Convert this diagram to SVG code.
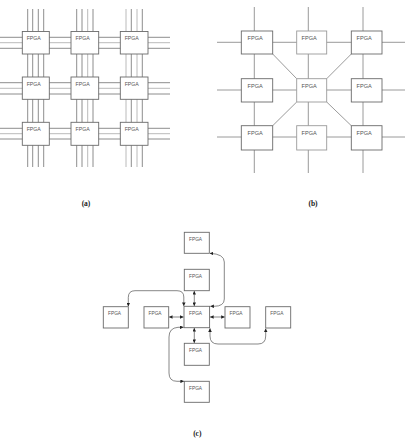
<svg xmlns="http://www.w3.org/2000/svg" width="405" height="442" viewBox="0 0 405 442">
<defs>
<style>
.bg{fill:#fff}
.box{fill:#fff;stroke:#6a6a6a;stroke-width:0.9}
.lbl{font-family:"Liberation Sans",Arial,sans-serif;fill:#555}
.la{font-size:5.2px}
.lb{font-size:5.6px}
.lc{font-size:4.8px}
.wd{stroke:#707070;stroke-width:0.8;fill:none}
.wl{stroke:#a8a8a8;stroke-width:0.8;fill:none}
.wb{stroke:#808080;stroke-width:0.8;fill:none}
.cn{stroke:#555;stroke-width:0.7;fill:none;marker-start:url(#ah);marker-end:url(#ah)}
.cap{font-family:"Liberation Serif","Times New Roman",serif;font-weight:bold;font-size:7.5px;fill:#222;text-anchor:middle}
</style>
<marker id="ah" viewBox="0 0 10 10" refX="10" refY="5" markerWidth="3.6" markerHeight="3.6" markerUnits="userSpaceOnUse" orient="auto-start-reverse">
<path d="M0,0 L10,5 L0,10 z" fill="#222"/>
</marker>
</defs>
<rect class="bg" x="0" y="0" width="405" height="442"/>

<!-- Panel (a) -->
<g id="a-wires">
<g class="wd">
<path d="M27.7 9V167M32.7 9V167M38.3 9V167M43.7 9V167"/>
<path d="M76.7 9V167M82 9V167M93 9V167"/>
<path d="M131.3 9V167M142.3 9V167"/>
<path d="M0 37.3H170M0 48.3H170"/>
<path d="M0 82.7H170M0 94H170"/>
<path d="M0 128.3H170M0 139H170"/>
</g>
<g class="wl">
<path d="M87.7 9V167M126 9V167M137 9V167"/>
<path d="M0 42.7H170M0 88.3H170M0 133.7H170"/>
</g>
</g>
<g id="a11"><rect class="box" x="22.3" y="31.5" width="27" height="22.5"/><text class="lbl la" x="26.7" y="40">FPGA</text></g>
<g id="a12"><rect class="box" x="71" y="31.5" width="27.7" height="22.5"/><text class="lbl la" x="75.5" y="40">FPGA</text></g>
<g id="a13"><rect class="box" x="120.3" y="31.5" width="27.7" height="22.5"/><text class="lbl la" x="124.7" y="40">FPGA</text></g>
<g id="a21"><rect class="box" x="22.3" y="77" width="27" height="22.3"/><text class="lbl la" x="26.7" y="85.8">FPGA</text></g>
<g id="a22"><rect class="box" x="71" y="77" width="27.7" height="22.3"/><text class="lbl la" x="75.5" y="85.8">FPGA</text></g>
<g id="a23"><rect class="box" x="120.3" y="77" width="27.7" height="22.3"/><text class="lbl la" x="124.7" y="85.8">FPGA</text></g>
<g id="a31"><rect class="box" x="22.3" y="122.3" width="27" height="23"/><text class="lbl la" x="26.7" y="131">FPGA</text></g>
<g id="a32"><rect class="box" x="71" y="122.3" width="27.7" height="23"/><text class="lbl la" x="75.5" y="131">FPGA</text></g>
<g id="a33"><rect class="box" x="120.3" y="122.3" width="27.7" height="23"/><text class="lbl la" x="124.7" y="131">FPGA</text></g>
<text class="cap" x="86" y="206">(a)</text>

<!-- Panel (b) -->
<g id="b-wires" class="wb">
<path d="M254.3 7V173M308.3 7V173M363 7V173"/>
<path d="M217 42.3H405M217 90H405M217 137H405"/>
<path d="M272.7 54L296.7 78.7M326.7 78.7L351.3 54M296.7 102L272.7 125.7M326.7 102L351.3 125.7"/>
</g>
<g id="b11"><rect class="box" x="241.3" y="31" width="31.4" height="23"/><text class="lbl lb" x="247.5" y="40">FPGA</text></g>
<g id="b12"><rect class="box" x="296.7" y="31" width="30" height="23" style="stroke:#9a9a9a"/><text class="lbl lb" x="301.5" y="40">FPGA</text></g>
<g id="b13"><rect class="box" x="351.3" y="31" width="30.7" height="23"/><text class="lbl lb" x="356.5" y="40">FPGA</text></g>
<g id="b21"><rect class="box" x="241.3" y="78.7" width="31.4" height="23.3"/><text class="lbl lb" x="247.5" y="87.8">FPGA</text></g>
<g id="b22"><rect class="box" x="296.7" y="78.7" width="30" height="23.3" style="stroke:#9a9a9a"/><text class="lbl lb" x="301.5" y="87.8">FPGA</text></g>
<g id="b23"><rect class="box" x="351.3" y="78.7" width="30.7" height="23.3"/><text class="lbl lb" x="356.5" y="87.8">FPGA</text></g>
<g id="b31"><rect class="box" x="241.3" y="125.7" width="31.4" height="24.3"/><text class="lbl lb" x="247.5" y="135">FPGA</text></g>
<g id="b32"><rect class="box" x="296.7" y="125.7" width="30" height="24.3" style="stroke:#9a9a9a"/><text class="lbl lb" x="301.5" y="135">FPGA</text></g>
<g id="b33"><rect class="box" x="351.3" y="125.7" width="30.7" height="24.3"/><text class="lbl lb" x="356.5" y="135">FPGA</text></g>
<text class="cap" x="313" y="206">(b)</text>

<!-- Panel (c) -->
<g id="c-connectors">
<path class="cn" d="M209.8 253.3 Q224.3 254 224.3 262 V299 Q224.3 306.3 214 306.3 H210.3"/>
<path class="cn" d="M194.3 291 V306"/>
<path class="cn" d="M168.9 317 H183.6"/>
<path class="cn" d="M210 317 H224.8"/>
<path class="cn" d="M194.3 328 V343"/>
<path class="cn" d="M183.8 306 V297 Q183.8 290.7 177 290.7 H135 Q128.3 290.7 128.3 297.5 V306.4"/>
<path class="cn" d="M183.6 327.3 H178 Q169 328 169 337 V373 Q169 381.3 177 381.3 H184"/>
<path class="cn" d="M210 328.3 V336 Q210 344 218 344 H258 Q265.7 344 265.7 336 V328.5"/>
</g>
<g id="c-top"><rect class="box" x="184.3" y="232.3" width="25" height="21"/><text class="lbl lc" x="189" y="241">FPGA</text></g>
<g id="c-up"><rect class="box" x="184.3" y="269.3" width="25" height="21.4"/><text class="lbl lc" x="189" y="278">FPGA</text></g>
<g id="c-center"><rect class="box" x="184" y="306.3" width="25.6" height="21.4"/><text class="lbl lc" x="189" y="315.3">FPGA</text></g>
<g id="c-farleft"><rect class="box" x="103.3" y="306.7" width="25" height="21.3"/><text class="lbl lc" x="108" y="315.3">FPGA</text></g>
<g id="c-left"><rect class="box" x="144" y="306.7" width="24.7" height="21.3"/><text class="lbl lc" x="148.5" y="315.3">FPGA</text></g>
<g id="c-right"><rect class="box" x="225" y="306.7" width="25" height="21.3"/><text class="lbl lc" x="229.5" y="315.3">FPGA</text></g>
<g id="c-farright"><rect class="box" x="265.7" y="306.7" width="25" height="21.3"/><text class="lbl lc" x="270.3" y="315.3">FPGA</text></g>
<g id="c-down"><rect class="box" x="184.3" y="343.3" width="25" height="22"/><text class="lbl lc" x="189" y="352">FPGA</text></g>
<g id="c-bottom"><rect class="box" x="184.3" y="381.3" width="25" height="21"/><text class="lbl lc" x="189" y="390">FPGA</text></g>
<text class="cap" x="197.3" y="435.5">(c)</text>
</svg>
